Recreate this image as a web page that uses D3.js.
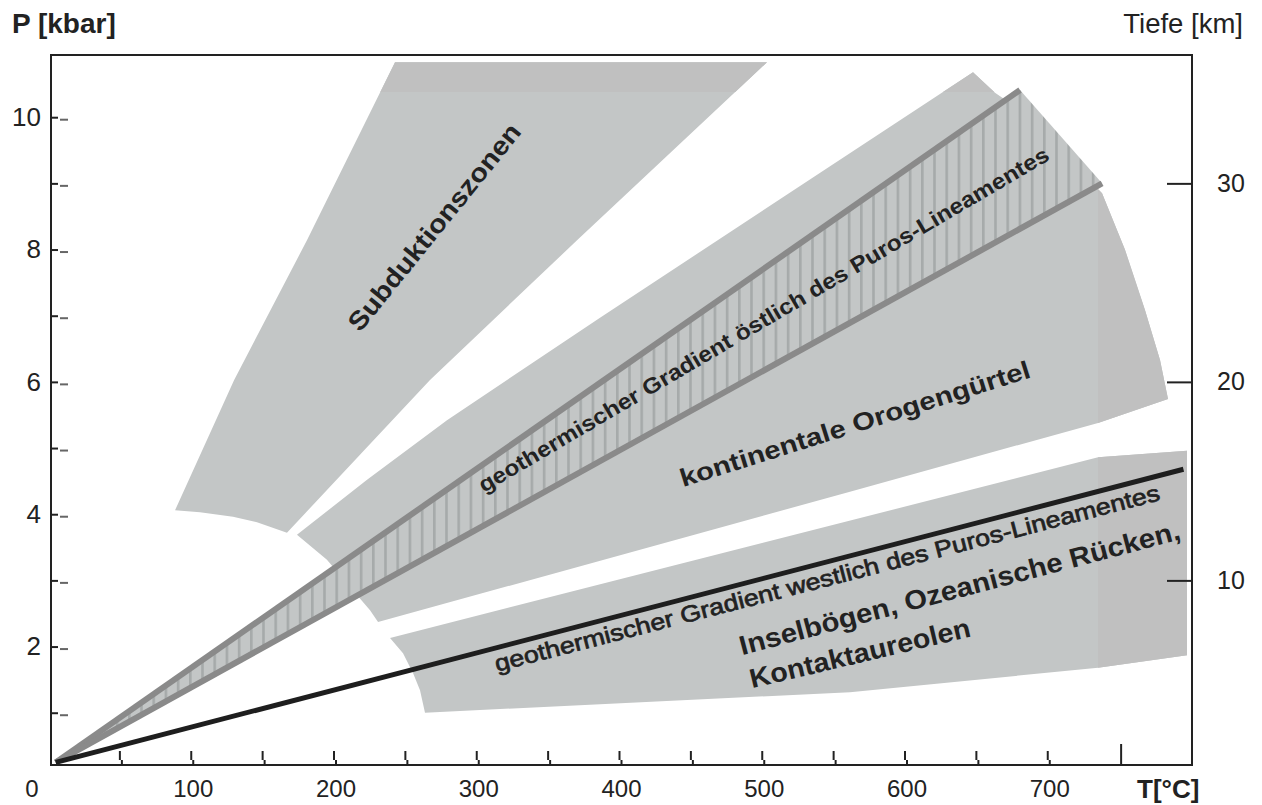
<!DOCTYPE html>
<html><head><meta charset="utf-8">
<script src="https://cdn.jsdelivr.net/npm/d3@7"></script>
<style>
html,body{margin:0;padding:0;background:#fff;}
svg{display:block;}
text{font-family:"Liberation Sans",Arial,Helvetica,sans-serif;}
</style>
</head><body>
<svg id="chart" width="1262" height="805"></svg>
<script>
// ---------- data (T in °C, P in kbar) ----------
const tempTicks = [50,100,150,200,250,300,350,400,450,500,550,600,650,700];
const tempMajorTick = [750];
const tempLabels = [100,200,300,400,500,600,700];
const pressureTicks = [1,2,3,4,5,6,7,8,9,10];
const pressureLabels = [2,4,6,8,10];
const depthTicks = [10,20,30];

const subduktionszonen = [
  [241.7,10.83],[502.3,10.83],[369.2,8.14],[266.2,6.03],[166.0,3.72],
  [145.0,3.88],[128.2,3.96],[105.1,4.03],[87.6,4.06],[129.0,6.03],[180.0,8.14]
];
const orogenguertel = [
  [173.0,3.69],[222.1,4.52],[278.1,5.42],[385.3,6.97],[646.6,10.68],
  [662.0,10.37],[679.5,10.11],[700.5,9.66],[721.5,9.20],[737.0,8.85],
  [753.0,8.00],[767.0,7.09],[777.6,6.33],[783.2,5.74],
  [734.2,5.38],[560.4,4.34],[229.8,2.37],
  [224.2,2.55],[210.2,2.90],[194.0,3.31]
];
const inselboegen = [
  [238.2,2.13],[734.2,4.86],[796.5,4.96],[796.5,1.87],[734.2,1.68],
  [560.4,1.31],[262.7,1.00],[259.2,1.34],[254.3,1.60],[247.3,1.90]
];
const gradientOstOben  = [[4,0.25],[679.5,10.41]];
const gradientOstUnten = [[4,0.25],[737.0,9.00]];
const gradientWest     = [[4,0.25],[794.0,4.68]];

// ---------- layout ----------
const X0 = 51, X1 = 1192, Y0 = 55, Y1 = 765;
const svg = d3.select("#chart");
const x = d3.scaleLinear().domain([0,800]).range([50,1192]);
const y = d3.scaleLinear().domain([0.21,10.94]).range([Y1,Y0]);
const yDepth = d3.scaleLinear().domain([0.21/0.3,10.94/0.3]).range([Y1,Y0]);

const LIGHT = "#c3c6c6", DARK = "#c0c0c0";
const defs = svg.append("defs");
const pat = defs.append("pattern").attr("id","hatch").attr("patternUnits","userSpaceOnUse")
  .attr("width",12.2).attr("height",20).attr("x",860);
pat.append("rect").attr("width",12.2).attr("height",20).attr("fill",LIGHT);
pat.append("rect").attr("x",0).attr("width",2.6).attr("height",20).attr("fill","#a6aaaa");

const clipDark = defs.append("clipPath").attr("id","darkzone");
clipDark.append("rect").attr("x",0).attr("y",0).attr("width",1262).attr("height",y(10.38));
clipDark.append("rect").attr("x",x(734.2)).attr("y",0).attr("width",1262).attr("height",805);

const line = d3.line().x(d=>x(d[0])).y(d=>y(d[1]));
const poly = pts => line(pts) + "Z";

const regions = [subduktionszonen, orogenguertel, inselboegen];
svg.append("g").selectAll("path").data(regions).join("path")
  .attr("d",poly).attr("fill",LIGHT);
svg.append("g").attr("clip-path","url(#darkzone)").selectAll("path").data(regions).join("path")
  .attr("d",poly).attr("fill",DARK);

// hatched eastern band
const band = [gradientOstOben[0], gradientOstOben[1], gradientOstUnten[1]];
svg.append("path").attr("d",poly(band)).attr("fill","url(#hatch)");

svg.append("path").attr("d",line(gradientOstOben)).attr("stroke","#8a8a8a").attr("stroke-width",6).attr("fill","none");
svg.append("path").attr("d",line(gradientOstUnten)).attr("stroke","#8a8a8a").attr("stroke-width",6).attr("fill","none");
svg.append("path").attr("d",line(gradientWest)).attr("stroke","#1e1e1e").attr("stroke-width",5).attr("fill","none");

// ---------- labels inside ----------
const notes = [
  {t:"Subduktionszonen", T:217.2, P:6.74, a:-51, len:258, fs:26, w:"bold", s:0},
  {t:"geothermischer Gradient östlich des Puros-Lineamentes", T:304.0, P:4.32, a:-30.5, len:658, fs:22, w:"bold", s:0},
  {t:"kontinentale Orogengürtel", T:443.4, P:4.41, a:-17.5, len:366, fs:25, w:"bold", s:0},
  {t:"geothermischer Gradient westlich des Puros-Lineamentes", T:313.1, P:1.62, a:-14.5, len:686, fs:23, w:"normal", s:0.7},
  {t:"Inselbögen, Ozeanische Rücken,", T:484.8, P:1.87, a:-14.8, len:455, fs:27, w:"bold", s:0},
  {t:"Kontaktaureolen", T:491.8, P:1.37, a:-13.3, len:226, fs:27, w:"bold", s:0}
];
svg.append("g").selectAll("text").data(notes).join("text")
  .attr("transform",d=>`translate(${x(d.T)},${y(d.P)}) rotate(${d.a})`)
  .attr("font-size",d=>d.fs).attr("font-weight",d=>d.w).attr("fill","#222")
  .attr("stroke","#222").attr("stroke-width",d=>d.s)
  .attr("textLength",d=>d.len).attr("lengthAdjust","spacingAndGlyphs")
  .text(d=>d.t);

// ---------- axes ----------
function styleAxis(g, color, width){
  g.select(".domain").remove();
  g.selectAll(".tick line").attr("stroke",color).attr("stroke-width",width);
  g.selectAll("text").attr("fill","#222").attr("font-family",'"Liberation Sans",Arial,sans-serif');
}
// left
const gL = svg.append("g").attr("transform",`translate(${X0},0)`)
  .call(d3.axisLeft(y).tickValues(pressureTicks).tickSize(-7).tickPadding(10)
    .tickFormat(d => pressureLabels.includes(d) ? d : ""));
styleAxis(gL,"#222",2); gL.selectAll("text").attr("font-size",26);
const gL2 = svg.append("g").attr("transform",`translate(${X0+9},2)`)
  .call(d3.axisLeft(y).tickValues(pressureTicks).tickSize(-8).tickFormat(""));
styleAxis(gL2,"#666",2);
// right
const gR = svg.append("g").attr("transform",`translate(${X1},0)`)
  .call(d3.axisRight(yDepth).tickValues(depthTicks).tickSize(-25).tickPadding(25));
styleAxis(gR,"#222",2); gR.selectAll("text").attr("font-size",25);
// bottom
const gB1 = svg.append("g").attr("transform",`translate(0,${Y1})`)
  .call(d3.axisBottom(x).tickValues(tempTicks).tickSize(-5).tickFormat(""));
styleAxis(gB1,"#222",2);
const gB2 = svg.append("g").attr("transform",`translate(-2,${Y1-5})`)
  .call(d3.axisBottom(x).tickValues(tempTicks).tickSize(-9).tickFormat(""));
styleAxis(gB2,"#222",2);
const gB3 = svg.append("g").attr("transform",`translate(0,${Y1})`)
  .call(d3.axisBottom(x).tickValues(tempMajorTick).tickSize(-21).tickFormat(""));
styleAxis(gB3,"#222",2);
const gBL = svg.append("g").attr("transform",`translate(0,${Y1})`)
  .call(d3.axisBottom(x).tickValues(tempLabels).tickSize(0).tickPadding(15));
styleAxis(gBL,"#222",0); gBL.selectAll("text").attr("font-size",24);
svg.append("text").attr("x",x(0)-18).attr("y",797).attr("text-anchor","middle")
  .attr("font-size",24).attr("fill","#222").text("0");

// frame
svg.append("rect").attr("x",X0).attr("y",Y0).attr("width",X1-X0).attr("height",Y1-Y0)
  .attr("fill","none").attr("stroke","#222").attr("stroke-width",2);

// titles
svg.append("text").attr("x",12).attr("y",33).attr("font-size",28).attr("font-weight","bold").attr("fill","#222").text("P [kbar]");
svg.append("text").attr("x",1243).attr("y",33).attr("text-anchor","end").attr("font-size",27.5).attr("fill","#222").text("Tiefe [km]");
svg.append("text").attr("x",1137).attr("y",798).attr("font-size",26).attr("font-weight","bold").attr("fill","#222").text("T[°C]");
</script>
</body></html>
